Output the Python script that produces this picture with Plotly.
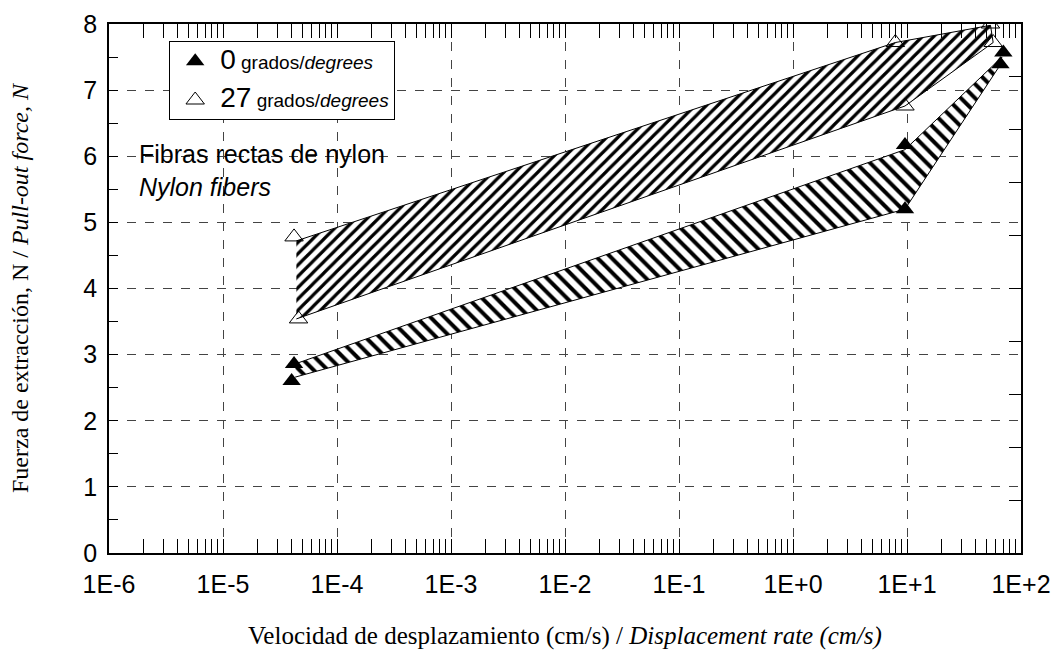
import plotly.graph_objects as go

# Data
x_0deg = [4.2e-5, 4.0e-5, 9.6, 9.6, 70, 66]
y_0deg = [2.86, 2.60, 6.17, 5.20, 7.57, 7.39]

x_27deg = [4.2e-5, 4.6e-5, 7.9, 9.6, 54, 57]
y_27deg = [4.78, 3.54, 7.72, 6.76, 8.00, 7.72]

# Hatched band outlines (ranges of each series)
band27_x = [4.4e-5, 7.9, 54, 57, 9.6, 4.4e-5]
band27_y = [4.72, 7.72, 7.98, 7.72, 6.76, 3.54]

band0_x = [4.3e-5, 9.6, 68, 64, 9.6, 4.3e-5]
band0_y = [2.86, 6.10, 7.50, 7.35, 5.20, 2.66]

x_tickvals = [1e-6, 1e-5, 1e-4, 1e-3, 1e-2, 1e-1, 1e0, 1e1, 1e2]
x_ticktext = ["1E-6", "1E-5", "1E-4", "1E-3", "1E-2", "1E-1", "1E+0", "1E+1", "1E+2"]
y_tickvals = [0, 1, 2, 3, 4, 5, 6, 7, 8]

# minor log ticks (2..9 in each decade) - axis styling only
x_minor = [m * 10.0 ** e for e in range(-6, 2) for m in range(2, 10)]

SANS = "Arial, Liberation Sans, sans-serif"
SERIF = "Times New Roman, Liberation Serif, serif"

fig = go.Figure()

fig.add_trace(go.Scatter(
    x=band27_x, y=band27_y, mode="lines", fill="toself",
    line=dict(color="black", width=1),
    fillcolor="white",
    fillpattern=dict(shape="/", fgcolor="black", bgcolor="white", fgopacity=1,
                     size=8, solidity=0.4),
    showlegend=False, hoverinfo="skip"))

fig.add_trace(go.Scatter(
    x=band0_x, y=band0_y, mode="lines", fill="toself",
    line=dict(color="black", width=1),
    fillcolor="white",
    fillpattern=dict(shape="\\", fgcolor="black", bgcolor="white", fgopacity=1,
                     size=10, solidity=0.4),
    showlegend=False, hoverinfo="skip"))

fig.add_trace(go.Scatter(
    x=x_0deg, y=y_0deg, mode="markers", legendgroup="a",
    marker=dict(symbol="triangle-up", size=16, color="black"),
    name="<span style='font-size:28px'>0</span> grados/<i>degrees</i>"))

fig.add_trace(go.Scatter(
    x=x_27deg, y=y_27deg, mode="markers", legendgroup="b",
    marker=dict(symbol="triangle-up-open", size=16, color="black", line=dict(width=1)),
    name="<span style='font-size:28px'>27</span> grados/<i>degrees</i>"))

# empty trace so the right-hand tick axis is drawn
fig.add_trace(go.Scatter(x=[], y=[], yaxis="y2", showlegend=False, hoverinfo="skip"))

fig.update_layout(
    width=1062, height=652,
    margin=dict(l=109, r=41, t=24, b=99),
    paper_bgcolor="white", plot_bgcolor="white",
    font=dict(family=SANS, color="black"),
    showlegend=True,
    legend=dict(x=0.066, y=0.967, xanchor="left", yanchor="top",
                bordercolor="black", borderwidth=1, bgcolor="white",
                font=dict(family=SANS, size=19, color="black"),
                itemwidth=40, tracegroupgap=11),
    annotations=[dict(
        x=0.031, y=0.785, xref="paper", yref="paper", xanchor="left", yanchor="top",
        align="left", showarrow=False,
        text="Fibras rectas de nylon<br><i>Nylon fibers</i>",
        font=dict(family=SANS, size=25, color="black"))],
)

fig.update_xaxes(
    type="log", range=[-6, 2],
    tickvals=x_tickvals, ticktext=x_ticktext,
    tickfont=dict(family=SANS, size=25), ticklabelstandoff=8,
    ticks="inside", ticklen=14, tickcolor="black", tickwidth=1,
    showline=True, linecolor="black", linewidth=1.5, mirror="allticks",
    showgrid=True, gridcolor="#444", griddash="9px,9px", gridwidth=1,
    minor=dict(ticks="inside", ticklen=7, tickcolor="black", tickmode="array",
               tickvals=x_minor, showgrid=False),
    zeroline=False, automargin=False,
    title=dict(text="Velocidad de desplazamiento (cm/s) / <i>Displacement rate (cm/s)</i>",
               font=dict(family=SERIF, size=25), standoff=30),
)

fig.update_yaxes(
    range=[0, 8], tickvals=y_tickvals,
    tickfont=dict(family=SANS, size=25), ticklabelstandoff=5,
    ticks="inside", ticklen=9, tickcolor="black", tickwidth=1,
    showline=True, linecolor="black", linewidth=1.5, mirror=True,
    showgrid=True, gridcolor="#444", griddash="9px,9px", gridwidth=1,
    minor=dict(ticks="inside", ticklen=9, tickcolor="black", dtick=0.5, showgrid=False),
    zeroline=False, automargin=False,
    title=dict(text="Fuerza de extracción, N / <i>Pull-out force, N</i>",
               font=dict(family=SERIF, size=24), standoff=48),
)

fig.update_layout(yaxis2=dict(
    overlaying="y", side="right", anchor="x", range=[0, 10], dtick=1,
    ticks="inside", ticklen=12, tickcolor="black",
    showticklabels=False, showgrid=False, zeroline=False, showline=False))

fig.write_html("out.html")
